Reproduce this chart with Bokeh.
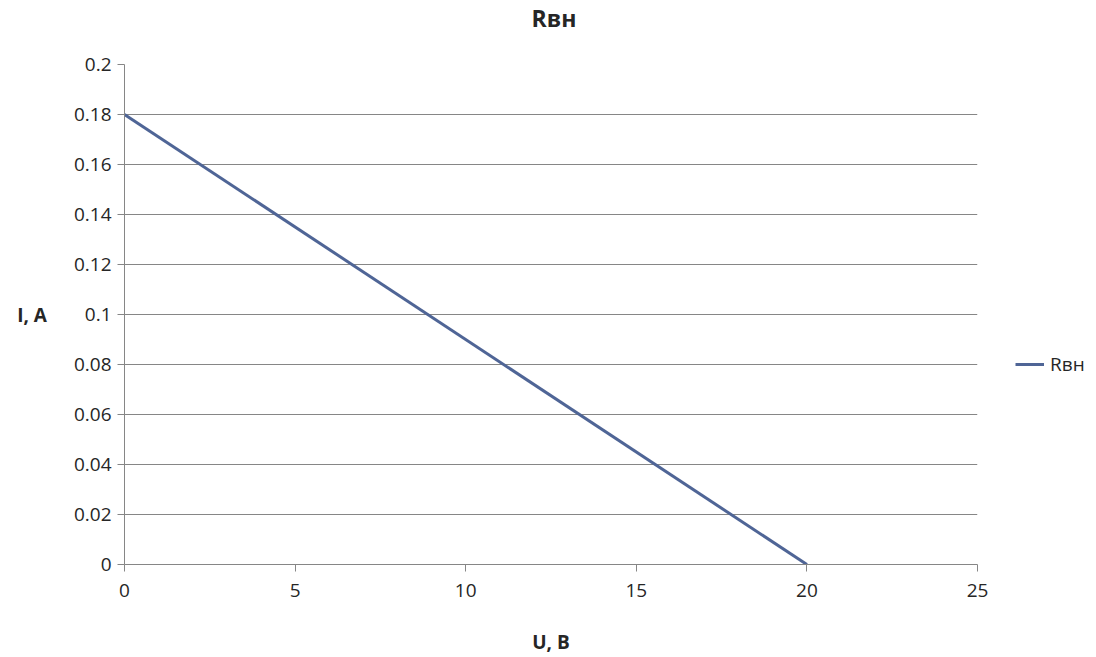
from bokeh.plotting import figure
from bokeh.models import Range1d, FixedTicker, Legend, LegendItem, Div
from bokeh.layouts import column
from bokeh.embed import file_html
from bokeh.resources import INLINE

# Data
u_values = [0, 20]
i_values = [0.18, 0]
x_ticks = [0, 5, 10, 15, 20, 25]
x_tick_labels = ["0", "5", "10", "15", "20", "25"]
y_ticks = [0, 0.02, 0.04, 0.06, 0.08, 0.1, 0.12, 0.14, 0.16, 0.18, 0.2]
y_tick_labels = ["0", "0.02", "0.04", "0.06", "0.08", "0.1", "0.12", "0.14", "0.16", "0.18", "0.2"]
series_name = "Rвн"
title_text = "Rвн"
x_label = "U, В"
y_label = "I, A"

FONT = "Open Sans"
GRID = "#868686"
TEXT = "#262626"
LINE = "#4F6596"

title_div = Div(text=title_text, width=1096, height=38, margin=0,
                styles={"font-family": "'Open Sans'", "font-size": "23px", "font-weight": "bold",
                        "color": TEXT, "text-align": "center", "padding-top": "2px",
                        "padding-left": "12px", "box-sizing": "border-box", "width": "1096px"})

p = figure(frame_width=853, frame_height=500, output_backend="svg", toolbar_location=None,
           x_range=Range1d(0, 25), y_range=Range1d(0, 0.2),
           min_border_left=124, min_border_right=119, min_border_top=26, min_border_bottom=93)
p.outline_line_color = None
p.margin = 0

r = p.line(u_values, i_values, line_color=LINE, line_width=3)

# axes
for ax in (p.xaxis[0], p.yaxis[0]):
    ax.axis_line_color = GRID
    ax.major_tick_line_color = GRID
    ax.major_tick_out = 7
    ax.major_tick_in = 0
    ax.minor_tick_line_color = None
    ax.major_label_text_font = FONT
    ax.major_label_text_font_size = "19px"
    ax.major_label_text_color = TEXT
    ax.axis_label_text_font = FONT
    ax.axis_label_text_font_size = "19px"
    ax.axis_label_text_font_style = "bold"
    ax.axis_label_text_color = TEXT

p.xaxis.ticker = FixedTicker(ticks=x_ticks)
p.xaxis.major_label_overrides = dict(zip(x_ticks, x_tick_labels))
p.xaxis.axis_label = x_label
p.xaxis.major_label_standoff = 12
p.xaxis.axis_label_standoff = 29

p.yaxis.ticker = FixedTicker(ticks=y_ticks)
p.yaxis.major_label_overrides = dict(zip(y_ticks, y_tick_labels))
p.yaxis.axis_label = y_label
p.yaxis.axis_label_orientation = "horizontal"
p.yaxis.major_label_standoff = 6
p.yaxis.axis_label_standoff = 24

p.xgrid.grid_line_color = None
p.ygrid.grid_line_color = GRID
p.ygrid.ticker = FixedTicker(ticks=y_ticks)

legend = Legend(items=[LegendItem(label=series_name, renderers=[r])],
                location=(38, 187), margin=0, padding=0,
                border_line_color=None, background_fill_alpha=0,
                glyph_width=29, label_standoff=6,
                label_text_font=FONT, label_text_font_size="19px", label_text_color=TEXT)
p.add_layout(legend, "right")

layout = column(title_div, p, spacing=0, margin=0)

open("out.html", "w").write(file_html(layout, INLINE))
